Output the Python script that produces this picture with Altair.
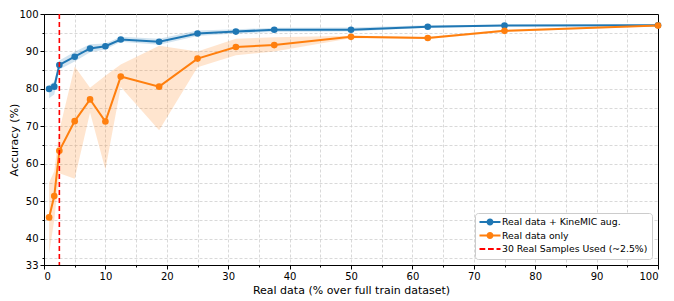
import altair as alt
import pandas as pd

# ---- data ----
x_pct = [0.83, 1.67, 2.5, 5, 7.5, 10, 12.5, 18.75, 25, 31.25, 37.5, 50, 62.5, 75, 100]
aug_mean = [80.0, 80.6, 86.4, 88.6, 90.8, 91.4, 93.2, 92.6, 94.8, 95.3, 95.8, 95.8, 96.6, 96.9, 97.0]
aug_low = [77.5, 78.5, 85.2, 87.3, 89.8, 90.5, 92.6, 91.8, 94.1, 94.8, 95.2, 95.3, 96.3, 96.7, 96.8]
aug_high = [81.0, 82.0, 87.6, 89.9, 91.9, 92.1, 93.9, 93.4, 95.6, 95.9, 96.3, 96.4, 97.0, 97.1, 97.2]
real_mean = [45.7, 51.4, 63.5, 71.4, 77.2, 71.3, 83.3, 80.6, 88.1, 91.2, 91.7, 93.9, 93.6, 95.5, 96.9]
real_low = [36.0, 45.0, 57.5, 56.0, 73.7, 58.5, 80.5, 69.0, 85.8, 89.0, 90.0, 93.5, 93.3, 95.2, 96.7]
real_high = [55.0, 58.0, 69.0, 86.0, 80.3, 83.5, 86.5, 91.5, 90.0, 93.4, 93.8, 94.2, 93.9, 95.8, 97.1]

series_names = ["Real data + KineMIC aug.", "Real data only", "30 Real Samples Used (~2.5%)"]
series_colors = ["#1f77b4", "#ff7f0e", "#ff0000"]
cutoff_x = [2.5]

x_ticks = list(range(0, 101, 5))
y_ticks = [33] + list(range(35, 101, 5))

color_of = dict(zip(series_names, series_colors))
rows = []
for i, xv in enumerate(x_pct):
    rows.append({"x": xv, "mean": aug_mean[i], "low": aug_low[i], "high": aug_high[i], "series": series_names[0]})
for i, xv in enumerate(x_pct):
    rows.append({"x": xv, "mean": real_mean[i], "low": real_low[i], "high": real_high[i], "series": series_names[1]})
df = pd.DataFrame(rows)
df["col"] = df["series"].map(color_of)
rule_df = pd.DataFrame({"x": cutoff_x, "series": [series_names[2]]})
rule_df["col"] = rule_df["series"].map(color_of)
legend_df = pd.DataFrame({"series": series_names})

color_scale = alt.Scale(domain=series_names, range=series_colors)

x_axis = alt.Axis(
    values=x_ticks,
    labelExpr="datum.value % 10 === 0 ? datum.label : ''",
    tickSize={"condition": {"test": "datum.value % 10 === 0", "value": 4}, "value": 2},
    gridOpacity={"condition": {"test": "datum.value === 0 || datum.value === 100", "value": 0}, "value": 1},
    title="Real data (% over full train dataset)",
    grid=True,
)
y_axis = alt.Axis(
    values=y_ticks,
    labelExpr="(datum.value % 10 === 0 || datum.value === 33) ? datum.label : ''",
    tickSize={"condition": {"test": "datum.value % 10 === 0 || datum.value === 33", "value": 4}, "value": 2},
    gridOpacity={"condition": {"test": "datum.value === 33 || datum.value === 100", "value": 0}, "value": 1},
    title="Accuracy (%)",
    titleX=-30,
    titleY=125.5,
    titleBaseline="middle",
    grid=True,
)

xs = alt.Scale(domain=[0, 100], nice=False, zero=False)
ys = alt.Scale(domain=[33, 100], nice=False, zero=False)
X = alt.X("x:Q", scale=xs, axis=x_axis)
Y = alt.Y("mean:Q", scale=ys, axis=y_axis)
C = alt.Color("col:N", scale=None)

base = alt.Chart(df)

bands = base.mark_area(opacity=0.2).encode(
    x=X,
    y=alt.Y("low:Q", scale=ys, axis=y_axis),
    y2="high:Q",
    color=C,
    detail="series:N",
)

lines = base.mark_line(strokeWidth=2).encode(
    x=X, y=Y, color=C, detail="series:N",
)

points = base.mark_circle(size=44, opacity=1).encode(
    x=X, y=Y, color=C,
)

rule = alt.Chart(rule_df).mark_rule(strokeDash=[5, 3], strokeWidth=1.6).encode(
    x=alt.X("x:Q", scale=xs, axis=x_axis),
    color=C,
)

# legend symbols as filled shapes: line segments with a dot, and dashes
line_dot = ("M-2.1,-0.2L-0.6,-0.2L-0.6,0.2L-2.1,0.2Z"
            "M0.6,-0.2L2.1,-0.2L2.1,0.2L0.6,0.2Z"
            "M0.7,0A0.7,0.7,0,1,1,-0.7,0A0.7,0.7,0,1,1,0.7,0Z")
dash_sym = ("M-2.1,-0.18L-0.95,-0.18L-0.95,0.18L-2.1,0.18Z"
            "M-0.4,-0.18L0.75,-0.18L0.75,0.18L-0.4,0.18Z"
            "M1.3,-0.18L2.1,-0.18L2.1,0.18L1.3,0.18Z")


def make_legend():
    return alt.Legend(
        title=None,
        orient="bottom-right",
        offset=6,
        padding=4,
        strokeColor="#cccccc",
        fillColor="#ffffff",
        cornerRadius=3,
        labelFontSize=9.3,
        labelFont="DejaVu Sans",
        labelColor="#000000",
        labelLimit=300,
        symbolSize=100,
        symbolStrokeWidth=0,
        symbolOpacity=1,
        symbolOffset=6,
        labelOffset=7,
        rowPadding=2.5,
    )


legend_layer = alt.Chart(legend_df).transform_filter("false").mark_point(filled=True, opacity=1).encode(
    color=alt.Color("series:N", scale=color_scale, legend=make_legend()),
    shape=alt.Shape(
        "series:N",
        scale=alt.Scale(domain=series_names, range=[line_dot, line_dot, dash_sym]),
        legend=make_legend(),
    ),
)

chart = alt.layer(bands, lines, points, rule, legend_layer).properties(
    width=614, height=251,
    autosize=alt.AutoSizeParams(type="none"),
    padding={"left": 36, "top": 6, "right": 8, "bottom": 34},
).configure_view(
    stroke="#000000", strokeWidth=1,
).configure_axis(
    labelFont="DejaVu Sans", titleFont="DejaVu Sans",
    labelFontSize=10, titleFontSize=11, titleFontWeight="normal",
    labelColor="#000000", titleColor="#000000",
    domainColor="#000000", tickColor="#000000",
    gridColor="#cfcfcf", gridDash=[3, 2], gridWidth=0.8,
    labelPadding=2,
).configure_axisX(
    titlePadding=3,
).configure_legend(
    symbolOpacity=1,
)

chart.save("out.html", embed_options={"renderer": "svg", "actions": False})
